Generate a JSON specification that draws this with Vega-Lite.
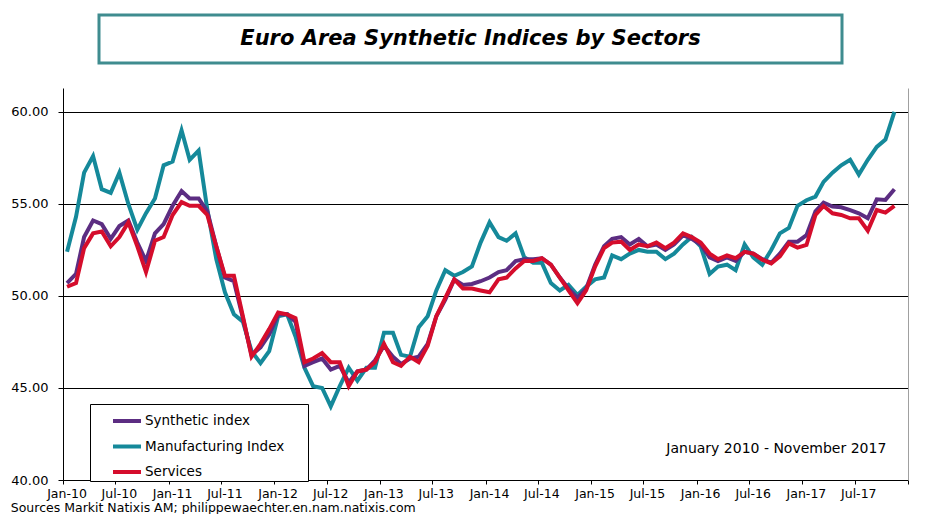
{
  "$schema": "https://vega.github.io/schema/vega-lite/v6.json",
  "padding": {"left": 10, "top": 13, "right": 0, "bottom": 0},
  "background": "white",
  "spacing": 23,
  "config": {"font": "DejaVu Sans", "view": {"stroke": null}},
  "vconcat": [
    {
      "spacing": 10,
      "hconcat": [
        {"width": 24, "height": 48, "data": {"values": []}, "mark": "point", "encoding": {}},
        {
          "width": 743, "height": 48,
          "view": {"stroke": "#3f8c8f", "strokeWidth": 3},
          "data": {"values": [{"t": "Euro Area Synthetic Indices by Sectors"}]},
          "mark": {"type": "text", "font": "DejaVu Sans", "fontSize": 21, "fontWeight": "bold", "fontStyle": "italic", "align": "center", "baseline": "middle", "color": "black"},
          "encoding": {
            "text": {"field": "t"},
            "x": {"datum": 0.5, "type": "quantitative", "scale": {"domain": [0, 1]}, "axis": null},
            "y": {"datum": 0.5, "type": "quantitative", "scale": {"domain": [0, 1]}, "axis": null}
          }
        }
      ]
    },
    {
      "width": 845, "height": 392,
      "title": {"text": "Sources  Markit Natixis AM; philippewaechter.en.nam.natixis.com", "orient": "bottom", "anchor": "start", "frame": "bounds", "fontSize": 12.5, "fontWeight": "normal", "color": "black", "offset": 2, "font": "DejaVu Sans"},
      "data": {"values": [
        {"date": "2010-01-15", "Synthetic index": 50.7, "Manufacturing Index": 52.4, "Services": 50.5},
        {"date": "2010-02-15", "Synthetic index": 51.2, "Manufacturing Index": 54.3, "Services": 50.7},
        {"date": "2010-03-15", "Synthetic index": 53.2, "Manufacturing Index": 56.7, "Services": 52.6},
        {"date": "2010-04-15", "Synthetic index": 54.1, "Manufacturing Index": 57.6, "Services": 53.4},
        {"date": "2010-05-15", "Synthetic index": 53.9, "Manufacturing Index": 55.8, "Services": 53.5},
        {"date": "2010-06-15", "Synthetic index": 53.1, "Manufacturing Index": 55.6, "Services": 52.7},
        {"date": "2010-07-15", "Synthetic index": 53.8, "Manufacturing Index": 56.7, "Services": 53.2},
        {"date": "2010-08-15", "Synthetic index": 54.1, "Manufacturing Index": 55.0, "Services": 54.0},
        {"date": "2010-09-15", "Synthetic index": 52.9, "Manufacturing Index": 53.6, "Services": 52.7},
        {"date": "2010-10-15", "Synthetic index": 51.9, "Manufacturing Index": 54.5, "Services": 51.3},
        {"date": "2010-11-15", "Synthetic index": 53.4, "Manufacturing Index": 55.3, "Services": 53.0},
        {"date": "2010-12-15", "Synthetic index": 53.9, "Manufacturing Index": 57.1, "Services": 53.2},
        {"date": "2011-01-15", "Synthetic index": 54.9, "Manufacturing Index": 57.3, "Services": 54.4},
        {"date": "2011-02-15", "Synthetic index": 55.7, "Manufacturing Index": 59.0, "Services": 55.1},
        {"date": "2011-03-15", "Synthetic index": 55.3, "Manufacturing Index": 57.4, "Services": 54.9},
        {"date": "2011-04-15", "Synthetic index": 55.3, "Manufacturing Index": 57.9, "Services": 54.9},
        {"date": "2011-05-15", "Synthetic index": 54.6, "Manufacturing Index": 54.7, "Services": 54.4},
        {"date": "2011-06-15", "Synthetic index": 52.7, "Manufacturing Index": 52.0, "Services": 52.7},
        {"date": "2011-07-15", "Synthetic index": 51.0, "Manufacturing Index": 50.2, "Services": 51.1},
        {"date": "2011-08-15", "Synthetic index": 50.8, "Manufacturing Index": 49.0, "Services": 51.1},
        {"date": "2011-09-15", "Synthetic index": 48.8, "Manufacturing Index": 48.6, "Services": 48.9},
        {"date": "2011-10-15", "Synthetic index": 46.8, "Manufacturing Index": 47.0, "Services": 46.7},
        {"date": "2011-11-15", "Synthetic index": 47.2, "Manufacturing Index": 46.35, "Services": 47.4},
        {"date": "2011-12-15", "Synthetic index": 47.9, "Manufacturing Index": 47.0, "Services": 48.2},
        {"date": "2012-01-15", "Synthetic index": 49.0, "Manufacturing Index": 48.9, "Services": 49.1},
        {"date": "2012-02-15", "Synthetic index": 49.0, "Manufacturing Index": 49.0, "Services": 49.0},
        {"date": "2012-03-15", "Synthetic index": 48.6, "Manufacturing Index": 47.8, "Services": 48.8},
        {"date": "2012-04-15", "Synthetic index": 46.2, "Manufacturing Index": 46.1, "Services": 46.4},
        {"date": "2012-05-15", "Synthetic index": 46.4, "Manufacturing Index": 45.1, "Services": 46.6},
        {"date": "2012-06-15", "Synthetic index": 46.6, "Manufacturing Index": 45.0, "Services": 46.9},
        {"date": "2012-07-15", "Synthetic index": 46.0, "Manufacturing Index": 44.0, "Services": 46.4},
        {"date": "2012-08-15", "Synthetic index": 46.2, "Manufacturing Index": 45.1, "Services": 46.4},
        {"date": "2012-09-15", "Synthetic index": 45.3, "Manufacturing Index": 46.1, "Services": 45.1},
        {"date": "2012-10-15", "Synthetic index": 45.9, "Manufacturing Index": 45.4, "Services": 45.9},
        {"date": "2012-11-15", "Synthetic index": 46.0, "Manufacturing Index": 46.1, "Services": 46.0},
        {"date": "2012-12-15", "Synthetic index": 46.5, "Manufacturing Index": 46.1, "Services": 46.4},
        {"date": "2013-01-15", "Synthetic index": 47.3, "Manufacturing Index": 48.0, "Services": 47.4},
        {"date": "2013-02-15", "Synthetic index": 46.7, "Manufacturing Index": 48.0, "Services": 46.4},
        {"date": "2013-03-15", "Synthetic index": 46.3, "Manufacturing Index": 46.8, "Services": 46.2},
        {"date": "2013-04-15", "Synthetic index": 46.6, "Manufacturing Index": 46.7, "Services": 46.7},
        {"date": "2013-05-15", "Synthetic index": 46.7, "Manufacturing Index": 48.3, "Services": 46.4},
        {"date": "2013-06-15", "Synthetic index": 47.4, "Manufacturing Index": 48.9, "Services": 47.3},
        {"date": "2013-07-15", "Synthetic index": 48.9, "Manufacturing Index": 50.3, "Services": 48.9},
        {"date": "2013-08-15", "Synthetic index": 49.8, "Manufacturing Index": 51.4, "Services": 49.9},
        {"date": "2013-09-15", "Synthetic index": 50.9, "Manufacturing Index": 51.1, "Services": 50.9},
        {"date": "2013-10-15", "Synthetic index": 50.6, "Manufacturing Index": 51.3, "Services": 50.4},
        {"date": "2013-11-15", "Synthetic index": 50.65, "Manufacturing Index": 51.6, "Services": 50.4},
        {"date": "2013-12-15", "Synthetic index": 50.8, "Manufacturing Index": 52.9, "Services": 50.3},
        {"date": "2014-01-15", "Synthetic index": 51.0, "Manufacturing Index": 54.0, "Services": 50.2},
        {"date": "2014-02-15", "Synthetic index": 51.3, "Manufacturing Index": 53.2, "Services": 50.9},
        {"date": "2014-03-15", "Synthetic index": 51.4, "Manufacturing Index": 53.0, "Services": 51.0},
        {"date": "2014-04-15", "Synthetic index": 51.9, "Manufacturing Index": 53.4, "Services": 51.5},
        {"date": "2014-05-15", "Synthetic index": 52.0, "Manufacturing Index": 52.1, "Services": 51.9},
        {"date": "2014-06-15", "Synthetic index": 52.0, "Manufacturing Index": 51.8, "Services": 51.9},
        {"date": "2014-07-15", "Synthetic index": 52.05, "Manufacturing Index": 51.8, "Services": 52.05},
        {"date": "2014-08-15", "Synthetic index": 51.7, "Manufacturing Index": 50.7, "Services": 51.7},
        {"date": "2014-09-15", "Synthetic index": 51.0, "Manufacturing Index": 50.3, "Services": 51.0},
        {"date": "2014-10-15", "Synthetic index": 50.4, "Manufacturing Index": 50.6, "Services": 50.3},
        {"date": "2014-11-15", "Synthetic index": 49.9, "Manufacturing Index": 50.05, "Services": 49.6},
        {"date": "2014-12-15", "Synthetic index": 50.4, "Manufacturing Index": 50.5, "Services": 50.3},
        {"date": "2015-01-15", "Synthetic index": 51.7, "Manufacturing Index": 50.9, "Services": 51.6},
        {"date": "2015-02-15", "Synthetic index": 52.7, "Manufacturing Index": 51.0, "Services": 52.6},
        {"date": "2015-03-15", "Synthetic index": 53.1, "Manufacturing Index": 52.2, "Services": 52.9},
        {"date": "2015-04-15", "Synthetic index": 53.2, "Manufacturing Index": 52.0, "Services": 52.95},
        {"date": "2015-05-15", "Synthetic index": 52.8, "Manufacturing Index": 52.3, "Services": 52.5},
        {"date": "2015-06-15", "Synthetic index": 53.1, "Manufacturing Index": 52.5, "Services": 52.8},
        {"date": "2015-07-15", "Synthetic index": 52.7, "Manufacturing Index": 52.4, "Services": 52.7},
        {"date": "2015-08-15", "Synthetic index": 52.8, "Manufacturing Index": 52.4, "Services": 52.9},
        {"date": "2015-09-15", "Synthetic index": 52.5, "Manufacturing Index": 52.0, "Services": 52.6},
        {"date": "2015-10-15", "Synthetic index": 52.8, "Manufacturing Index": 52.3, "Services": 52.9},
        {"date": "2015-11-15", "Synthetic index": 53.3, "Manufacturing Index": 52.8, "Services": 53.4},
        {"date": "2015-12-15", "Synthetic index": 53.1, "Manufacturing Index": 53.2, "Services": 53.2},
        {"date": "2016-01-15", "Synthetic index": 52.8, "Manufacturing Index": 52.7, "Services": 52.9},
        {"date": "2016-02-15", "Synthetic index": 52.1, "Manufacturing Index": 51.2, "Services": 52.3},
        {"date": "2016-03-15", "Synthetic index": 51.9, "Manufacturing Index": 51.6, "Services": 52.0},
        {"date": "2016-04-15", "Synthetic index": 52.1, "Manufacturing Index": 51.7, "Services": 52.2},
        {"date": "2016-05-15", "Synthetic index": 51.9, "Manufacturing Index": 51.4, "Services": 52.05},
        {"date": "2016-06-15", "Synthetic index": 52.4, "Manufacturing Index": 52.8, "Services": 52.4},
        {"date": "2016-07-15", "Synthetic index": 52.3, "Manufacturing Index": 52.1, "Services": 52.3},
        {"date": "2016-08-15", "Synthetic index": 52.0, "Manufacturing Index": 51.7, "Services": 51.97},
        {"date": "2016-09-15", "Synthetic index": 51.8, "Manufacturing Index": 52.5, "Services": 51.77},
        {"date": "2016-10-15", "Synthetic index": 52.3, "Manufacturing Index": 53.4, "Services": 52.15},
        {"date": "2016-11-15", "Synthetic index": 52.95, "Manufacturing Index": 53.7, "Services": 52.86},
        {"date": "2016-12-15", "Synthetic index": 52.95, "Manufacturing Index": 54.9, "Services": 52.63},
        {"date": "2017-01-15", "Synthetic index": 53.3, "Manufacturing Index": 55.2, "Services": 52.77},
        {"date": "2017-02-15", "Synthetic index": 54.6, "Manufacturing Index": 55.4, "Services": 54.4},
        {"date": "2017-03-15", "Synthetic index": 55.07, "Manufacturing Index": 56.2, "Services": 54.89},
        {"date": "2017-04-15", "Synthetic index": 54.86, "Manufacturing Index": 56.7, "Services": 54.49},
        {"date": "2017-05-15", "Synthetic index": 54.82, "Manufacturing Index": 57.1, "Services": 54.4},
        {"date": "2017-06-15", "Synthetic index": 54.67, "Manufacturing Index": 57.4, "Services": 54.22},
        {"date": "2017-07-15", "Synthetic index": 54.49, "Manufacturing Index": 56.6, "Services": 54.22},
        {"date": "2017-08-15", "Synthetic index": 54.22, "Manufacturing Index": 57.4, "Services": 53.55},
        {"date": "2017-09-15", "Synthetic index": 55.25, "Manufacturing Index": 58.1, "Services": 54.67},
        {"date": "2017-10-15", "Synthetic index": 55.22, "Manufacturing Index": 58.5, "Services": 54.53},
        {"date": "2017-11-15", "Synthetic index": 55.8, "Manufacturing Index": 60.0, "Services": 54.89}
      ]},
      "layer": [
        {
          "transform": [{"fold": ["Manufacturing Index", "Synthetic index", "Services"], "as": ["series", "value"]}],
          "mark": {"type": "line", "strokeWidth": 4, "clip": false},
          "encoding": {
            "x": {
              "field": "date", "type": "temporal",
              "scale": {"type": "utc", "domain": [{"year": 2010, "month": 1, "date": 1, "utc": true}, {"year": 2018, "month": 1, "date": 1, "utc": true}]},
              "axis": {"title": null, "tickCount": {"interval": "month", "step": 6}, "labelExpr": "datum.value >= 1514764800000 ? '' : utcFormat(datum.value, '%b-%y')", "labelOffset": 3.5, "tickSize": 4, "labelPadding": 3, "labelFontSize": 12.5, "labelFont": "DejaVu Sans", "labelColor": "black", "domainColor": "black", "tickColor": "black", "grid": false, "labelFlush": false, "labelOverlap": false}
            },
            "y": {
              "field": "value", "type": "quantitative",
              "scale": {"domain": [40, 61.3], "nice": false, "zero": false},
              "axis": {"title": null, "values": [40, 45, 50, 55, 60], "format": ".2f", "grid": true, "gridColor": "black", "gridOpacity": 1, "gridWidth": 1, "domainColor": "black", "tickColor": "black", "tickSize": 5, "labelFontSize": 13, "labelFont": "DejaVu Sans", "labelColor": "black", "labelPadding": 10}
            },
            "color": {
              "field": "series", "type": "nominal",
              "scale": {"domain": ["Synthetic index", "Manufacturing Index", "Services"], "range": ["#5c2d82", "#15899a", "#d50d2c"]},
              "legend": {"orient": "none", "legendX": 27, "legendY": 389, "title": " ", "titleOrient": "right", "titlePadding": 23, "strokeColor": "black", "fillColor": "white", "padding": 1, "symbolType": "stroke", "symbolStrokeWidth": 4, "symbolSize": 784, "symbolOffset": 20, "labelFontSize": 13.5, "labelFont": "DejaVu Sans", "labelColor": "black", "rowPadding": 1.5, "labelOffset": 2}
            }
          }
        },
        {
          "data": {"values": [{"t": "January 2010 - November 2017"}]},
          "mark": {"type": "text", "align": "right", "baseline": "middle", "fontSize": 14, "font": "DejaVu Sans", "color": "black"},
          "encoding": {
            "text": {"field": "t"},
            "x": {"datum": {"year": 2017, "month": 10, "date": 18, "utc": true}, "type": "temporal"},
            "y": {"datum": 41.7, "type": "quantitative", "axis": {"orient": "right", "labels": false, "ticks": false, "grid": false, "domainColor": "#a0a0a0", "title": null}}
          }
        }
      ],
      "resolve": {"axis": {"y": "independent"}}
    }
  ]
}
